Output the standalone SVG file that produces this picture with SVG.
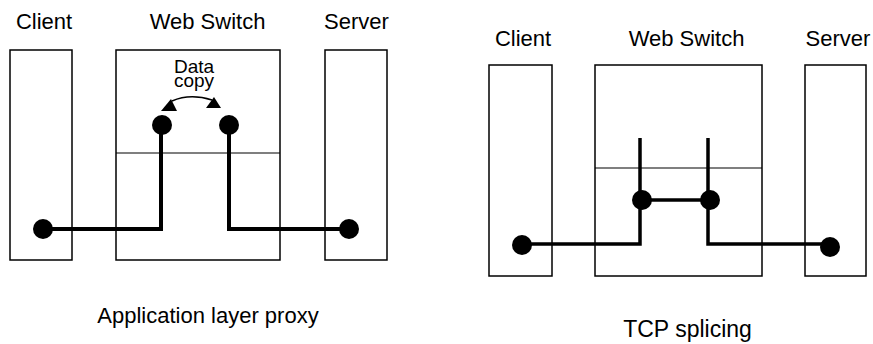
<svg xmlns="http://www.w3.org/2000/svg" width="873" height="344" viewBox="0 0 873 344">
<style>
.box{fill:none;stroke:#000;stroke-width:1.5}
.div{stroke:#000;stroke-width:1.2}
.t{font-family:"Liberation Sans",Arial,sans-serif;font-size:22px;fill:#000;text-anchor:middle}
.s{font-family:"Liberation Sans",Arial,sans-serif;font-size:19px;fill:#000;text-anchor:middle}
.w{fill:none;stroke:#000;stroke-width:4}
.w2{fill:none;stroke:#000;stroke-width:3.5}
.dot{fill:#000}
</style>
<g id="proxy">
<g id="p-client"><rect class="box" x="10" y="50" width="62" height="210"/><text class="t" x="44" y="29">Client</text></g>
<g id="p-switch"><rect class="box" x="116" y="50" width="164" height="210"/><line class="div" x1="116" y1="153" x2="280" y2="153"/><text class="t" x="207.5" y="29">Web Switch</text>
<text class="s" x="194" y="73">Data</text><text class="s" x="194" y="87">copy</text></g>
<g id="p-server"><rect class="box" x="325" y="50" width="62" height="210"/><text class="t" x="356.5" y="29">Server</text></g>
<g id="p-connectors">
<path d="M172,101Q190,93 212,100" fill="none" stroke="#000" stroke-width="1.5"/>
<path class="dot" d="M161,111L171,99L177,111Z"/>
<path class="dot" d="M206,108L214,97L221,108Z"/>
<path class="w" d="M43,229H161V125"/>
<path class="w" d="M229,125V229H349"/>
<circle class="dot" cx="43" cy="229" r="10"/>
<circle class="dot" cx="162" cy="125" r="10"/>
<circle class="dot" cx="229" cy="125" r="10"/>
<circle class="dot" cx="349" cy="229" r="10"/>
</g>
<text class="t" x="208" y="323">Application layer proxy</text>
</g>
<g id="splice">
<g id="s-client"><rect class="box" x="489" y="65" width="63" height="211"/><text class="t" x="523" y="46">Client</text></g>
<g id="s-switch"><rect class="box" x="595" y="65" width="167" height="211"/><line class="div" x1="595" y1="168" x2="762" y2="168"/><text class="t" x="686.5" y="46">Web Switch</text></g>
<g id="s-server"><rect class="box" x="805" y="65" width="61" height="211"/><text class="t" x="838" y="46">Server</text></g>
<g id="s-connectors">
<path class="w2" d="M522,244H640V138"/>
<path class="w2" d="M708,138V244H830"/>
<path class="w2" d="M642,200H710"/>
<circle class="dot" cx="522" cy="245" r="10"/>
<circle class="dot" cx="642" cy="200" r="10"/>
<circle class="dot" cx="710" cy="200" r="10"/>
<circle class="dot" cx="830" cy="247" r="10"/>
</g>
<text class="t" x="687.5" y="337" style="font-size:23px">TCP splicing</text>
</g>
</svg>
